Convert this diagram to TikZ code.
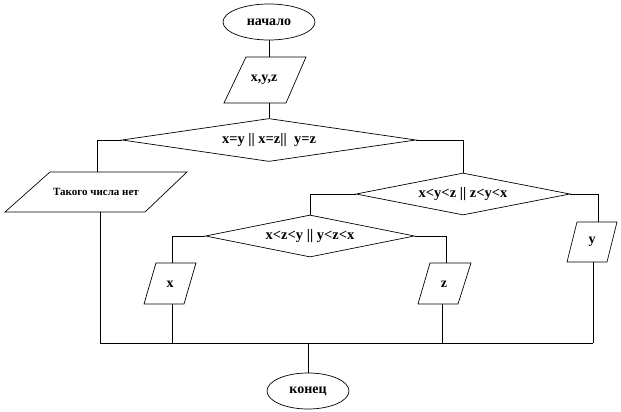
\documentclass[tikz,border=0pt]{standalone}
\usepackage{fontspec}
\setmainfont{Liberation Serif}
\usetikzlibrary{shapes.geometric}
\begin{document}
\begin{tikzpicture}[x=1pt,y=-1pt,
  ln/.style={draw, line width=0.7pt},
  lbl/.style={font=\bfseries\fontsize{14}{16}\selectfont, inner sep=0pt},
  clbl/.style={font=\bfseries\fontsize{14.5}{16}\selectfont, inner sep=0pt},
  term/.style={ellipse, draw, line width=0.7pt, inner sep=0pt, font=\bfseries\fontsize{14}{16}\selectfont},
  cond/.style={diamond, draw, line width=0.7pt, inner sep=0pt}]
\useasboundingbox (0,0) rectangle (621,412);
% terminals
\node[term, minimum width=92pt, minimum height=36pt] (start) at (269,22) {начало};
\node[term, minimum width=82pt, minimum height=36pt] (end) at (308,391) {конец};
% input
\draw[ln] (246,57) -- (306,57) -- (286,103) -- (224,103) -- cycle;
\node[lbl] (in) at (264,80) {x,y,z};
\coordinate (int) at (269,57);
\coordinate (inb) at (269,103);
% decisions
\node[cond, minimum width=294pt, minimum height=43pt] (d1) at (269,140) {};
\node[clbl] (d1t) at (d1) {x=y || x=z||\ \ y=z};
\node[cond, minimum width=214pt, minimum height=42pt] (d2) at (463,194) {};
\node[clbl] (d2t) at (d2) {x<y<z || z<y<x};
\node[cond, minimum width=209pt, minimum height=42pt] (d3) at (310,236) {};
\node[clbl] (d3t) at (d3) {x<z<y || y<z<x};
% outputs
\draw[ln] (50,172) -- (187,172) -- (145,212) -- (5,212) -- cycle;
\node[lbl, font=\bfseries\fontsize{11}{13}\selectfont] (no) at (96,192) {Такого числа нет};
\coordinate (not) at (97,172);
\coordinate (nob) at (100,212);
\draw[ln] (156,263) -- (196,263) -- (184,304) -- (144,304) -- cycle;
\node[lbl] (ox) at (170,284) {x};
\coordinate (oxt) at (172,263);
\coordinate (oxb) at (172,304);
\draw[ln] (430,263) -- (471,263) -- (458,304) -- (418,304) -- cycle;
\node[lbl] (oz) at (444,284) {z};
\coordinate (ozt) at (446,263);
\coordinate (ozb) at (442,304);
\draw[ln] (577,222) -- (617,222) -- (607,262) -- (567,262) -- cycle;
\node[lbl] (oy) at (592,242) {y};
\coordinate (oyt) at (598,222);
\coordinate (oyb) at (593,262);
% junction
\coordinate (jl) at (100,343);
\coordinate (jr) at (593,343);
\coordinate (jm) at (308,343);
% connectors
\draw[ln] (start) -- (int);
\draw[ln] (inb) -- (d1.north);
\draw[ln] (d1.west) -| (not);
\draw[ln] (d1.east) -| (d2.north);
\draw[ln] (d2.west) -| (d3.north);
\draw[ln] (d2.east) -| (oyt);
\draw[ln] (d3.west) -| (oxt);
\draw[ln] (d3.east) -| (ozt);
\draw[ln] (nob) -- (jl);
\draw[ln] (oxb) -- (oxb |- jl);
\draw[ln] (ozb) -- (ozb |- jl);
\draw[ln] (oyb) -- (jr);
\draw[ln] (jl) -- (jr);
\draw[ln] (jm) -- (end);
\end{tikzpicture}
\end{document}
